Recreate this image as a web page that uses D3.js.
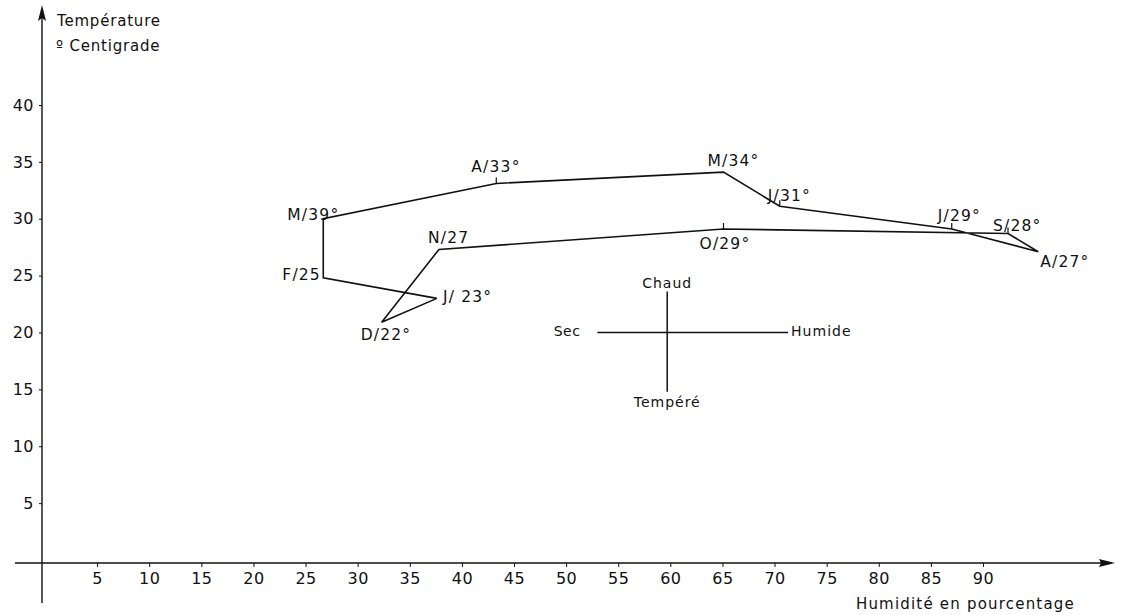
<!DOCTYPE html>
<html>
<head>
<meta charset="utf-8">
<script src="https://cdn.jsdelivr.net/npm/d3@7"></script>
<style>
  body { margin: 0; background: #fff; }
  text { font-family: "DejaVu Sans", sans-serif; fill: #111; }
</style>
</head>
<body>
<script>
// climogramme : humidite (%) / temperature (C), mois dans l'ordre
var months   = ["J", "F", "M", "A", "M", "J", "J", "A", "S", "O", "N", "D"];
var humidity = [37.6, 26.7, 26.7, 43.3, 65.1, 70.5, 87, 95.3, 92.4, 65.1, 37.8, 32.3];
var temp     = [23, 24.8, 30, 33.1, 34.1, 31.1, 29.1, 27.1, 28.7, 29.1, 27.3, 20.9];
var labels   = ["J/ 23°", "F/25", "M/39°", "A/33°", "M/34°", "J/31°", "J/29°", "A/27°", "S/28°", "O/29°", "N/27", "D/22°"];

var xTicks = [5, 10, 15, 20, 25, 30, 35, 40, 45, 50, 55, 60, 65, 70, 75, 80, 85, 90];
var yTicks = [5, 10, 15, 20, 25, 30, 35, 40];

// label offsets (px) from each point
var labelOff = [[6, 4], [-41, 2], [-36, 1], [-25, -11], [-16, -6], [-12, -5],
                [-14, -8], [2, 15], [-15, -3], [-24, 20], [-11, -6], [-21, 18]];
// small vertical strokes drawn on some points
var tickMonths = [3, 5, 6, 8, 9];

var W = 1122, H = 615;
var svg = d3.select('body').append('svg')
  .attr('width', W)
  .attr('height', H);

var x = d3.scaleLinear().domain([0, 90]).range([45, 983]);
var y = d3.scaleLinear().domain([0, 40]).range([560, 105]);

var axisX = 42, axisY = 563;

// axes lines + arrows
svg.append('line').attr('x1', 15).attr('x2', 1110).attr('y1', axisY).attr('y2', axisY)
  .attr('stroke', '#111').attr('stroke-width', 1.4);
svg.append('path').attr('d', 'M1115,' + axisY + 'L1099,' + (axisY - 4) + 'L1101,' + axisY + 'L1099,' + (axisY + 4) + 'Z')
  .attr('fill', '#111');
svg.append('line').attr('x1', axisX).attr('x2', axisX).attr('y1', 603).attr('y2', 12)
  .attr('stroke', '#111').attr('stroke-width', 1.4);
svg.append('path').attr('d', 'M' + axisX + ',5L' + (axisX - 4) + ',21L' + axisX + ',18L' + (axisX + 4) + ',21Z')
  .attr('fill', '#111');

var gx = svg.append('g').attr('transform', 'translate(0,' + axisY + ')')
  .call(d3.axisBottom(x).tickValues(xTicks).tickSize(4).tickPadding(6).tickFormat(d3.format('d')));
var gy = svg.append('g').attr('transform', 'translate(' + axisX + ',0)')
  .call(d3.axisLeft(y).tickValues(yTicks).tickSize(3).tickPadding(5).tickFormat(d3.format('d')));
[gx, gy].forEach(function(g){
  g.select('.domain').remove();
  g.selectAll('line').attr('stroke', '#111');
  g.selectAll('text').style('font-family', '"DejaVu Sans", sans-serif').style('font-size', '16px')
    .style('letter-spacing', '0.5px').attr('fill', '#111');
});

// axis titles
svg.append('text').attr('x', 57).attr('y', 26).style('font-size', '15px').style('letter-spacing', '0.8px').text('Température');
svg.append('text').attr('x', 56).attr('y', 51).style('font-size', '15px').style('letter-spacing', '0.8px').text('º Centigrade');
svg.append('text').attr('x', 1075).attr('y', 609).attr('text-anchor', 'end')
  .style('font-size', '15px').style('letter-spacing', '1.2px').text('Humidité en pourcentage');

// the closed path through the twelve months
var pts = humidity.map(function(h, i){ return [x(h), y(temp[i])]; });
var line = d3.line();
svg.append('path')
  .attr('d', line(pts.concat([pts[0]])))
  .attr('fill', 'none')
  .attr('stroke', '#111')
  .attr('stroke-width', 1.6)
  .attr('stroke-linejoin', 'miter');

svg.selectAll('.mk').data(tickMonths).enter().append('line')
  .attr('x1', function(i){ return pts[i][0]; })
  .attr('x2', function(i){ return pts[i][0]; })
  .attr('y1', function(i){ return pts[i][1]; })
  .attr('y2', function(i){ return pts[i][1] - 6; })
  .attr('stroke', '#111').attr('stroke-width', 1.2);

svg.selectAll('.lbl').data(labels).enter().append('text')
  .attr('x', function(d, i){ return pts[i][0] + labelOff[i][0]; })
  .attr('y', function(d, i){ return pts[i][1] + labelOff[i][1]; })
  .style('font-size', '15.5px')
  .style('letter-spacing', '1.2px')
  .text(function(d){ return d; });

// little orientation cross (Sec / Humide, Chaud / Tempere)
var crossC = [59.7, 20];
var crossH = [53, 71.3];
var crossV = [14.8, 23.6];
svg.append('line').attr('x1', x(crossH[0])).attr('x2', x(crossH[1]))
  .attr('y1', y(crossC[1])).attr('y2', y(crossC[1])).attr('stroke', '#111').attr('stroke-width', 1.5);
svg.append('line').attr('x1', x(crossC[0])).attr('x2', x(crossC[0]))
  .attr('y1', y(crossV[0])).attr('y2', y(crossV[1])).attr('stroke', '#111').attr('stroke-width', 1.5);
svg.append('text').attr('x', x(crossC[0])).attr('y', y(crossV[1]) - 4).attr('text-anchor', 'middle')
  .style('font-size', '14px').style('letter-spacing', '1px').text('Chaud');
svg.append('text').attr('x', x(crossC[0])).attr('y', y(crossV[0]) + 15).attr('text-anchor', 'middle')
  .style('font-size', '14px').style('letter-spacing', '1px').text('Tempéré');
svg.append('text').attr('x', x(crossH[0]) - 17).attr('y', y(crossC[1]) + 3).attr('text-anchor', 'end')
  .style('font-size', '14px').style('letter-spacing', '0.5px').text('Sec');
svg.append('text').attr('x', x(crossH[1]) + 3).attr('y', y(crossC[1]) + 3)
  .style('font-size', '14px').style('letter-spacing', '1px').text('Humide');
</script>
</body>
</html>
